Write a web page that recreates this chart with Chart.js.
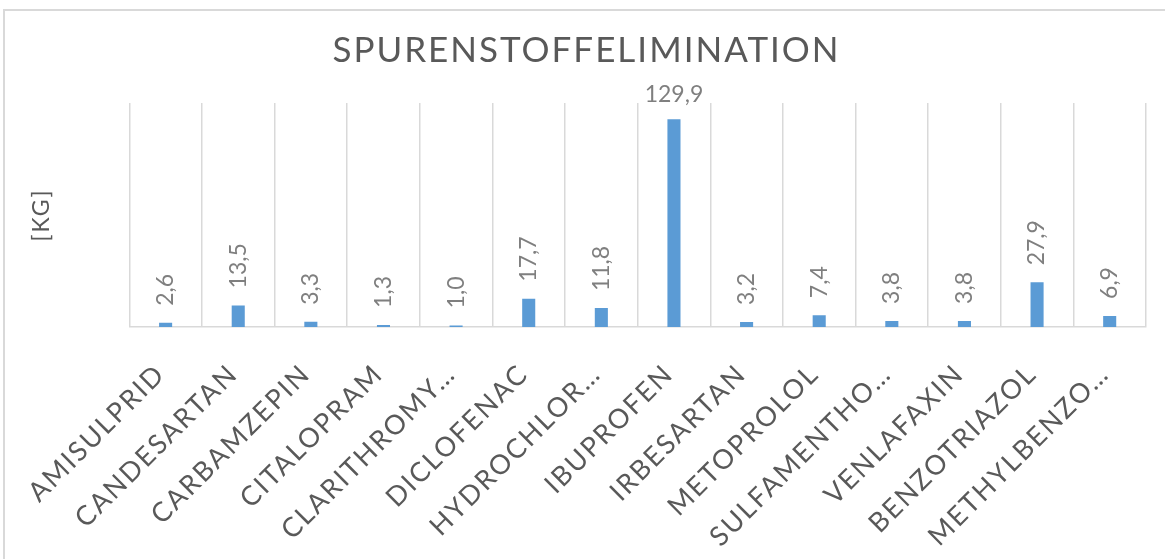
<!DOCTYPE html>
<html>
<head>
<meta charset="utf-8">
<script src="https://cdn.jsdelivr.net/npm/chart.js@4"></script>
<style>
  html, body { margin: 0; padding: 0; background: #ffffff; overflow: hidden; }
  #frame { position: absolute; left: 3px; top: 9px; width: 1220px; height: 620px;
           border-left: 2px solid #d9d9d9; border-top: 2px solid #d9d9d9; }
  #wrap { position: absolute; left: 0; top: 0; width: 1165px; height: 559px; }
</style>
</head>
<body>
<div id="frame"></div>
<div id="wrap"><canvas id="c"></canvas></div>
<script>
// ---- data ----
const chartTitle = 'SPURENSTOFFELIMINATION';
const yAxisTitle = '[KG]';
const categories = [
  'AMISULPRID', 'CANDESARTAN', 'CARBAMZEPIN', 'CITALOPRAM', 'CLARITHROMY…',
  'DICLOFENAC', 'HYDROCHLOR…', 'IBUPROFEN', 'IRBESARTAN', 'METOPROLOL',
  'SULFAMENTHO…', 'VENLAFAXIN', 'BENZOTRIAZOL', 'METHYLBENZO…'
];
const values = [2.6, 13.5, 3.3, 1.3, 1.0, 17.7, 11.8, 129.9, 3.2, 7.4, 3.8, 3.8, 27.9, 6.9];
const yMin = 0;
const yMax = 140;

// ---- styling ----
const TITLE_SPACING = '2px';
const LABEL_SPACING = '2px';
const VALUE_SPACING = '0px';
const FONT = 'Lato, "Open Sans", sans-serif';

function fmt(v) { return v.toFixed(1).replace('.', ','); }

const spacingPlugin = {
  id: 'spacing',
  beforeUpdate(chart) { chart.ctx.letterSpacing = LABEL_SPACING; },
  beforeDraw(chart) { chart.ctx.letterSpacing = TITLE_SPACING; },
  afterDatasetsDraw(chart) {
    const ctx = chart.ctx;
    const meta = chart.getDatasetMeta(0);
    ctx.save();
    ctx.letterSpacing = VALUE_SPACING;
    ctx.font = '23px ' + FONT;
    ctx.fillStyle = '#7f7f7f';
    meta.data.forEach((bar, i) => {
      const txt = fmt(values[i]);
      const w = ctx.measureText(txt).width;
      const start = bar.y - 17;
      if (start - w < chart.chartArea.top + 4) {
        ctx.textAlign = 'center';
        ctx.textBaseline = 'alphabetic';
        ctx.fillText(txt, bar.x, bar.y - 17.5);
      } else {
        ctx.save();
        ctx.translate(bar.x, start);
        ctx.rotate(-Math.PI / 2);
        ctx.textAlign = 'left';
        ctx.textBaseline = 'middle';
        ctx.fillText(txt, 0, 0);
        ctx.restore();
      }
    });
    ctx.restore();
    ctx.letterSpacing = LABEL_SPACING;
  }
};

new Chart(document.getElementById('c'), {
  type: 'bar',
  data: {
    labels: categories,
    datasets: [{
      data: values,
      backgroundColor: '#5b9bd5',
      borderWidth: 0,
      categoryPercentage: 1.0,
      barPercentage: 0.18
    }]
  },
  options: {
    responsive: true,
    maintainAspectRatio: false,
    animation: false,
    events: [],
    layout: { padding: { left: 8, right: 0, top: 0, bottom: 0 } },
    plugins: {
      legend: { display: false },
      tooltip: { enabled: false },
      title: {
        display: true,
        text: chartTitle,
        color: '#595959',
        font: { family: FONT, size: 35, weight: 'normal', lineHeight: 1.2 },
        padding: { top: 30, bottom: 31 }
      }
    },
    scales: {
      x: {
        offset: true,
        grid: { display: true, offset: true, color: '#d9d9d9', lineWidth: 1.5, drawTicks: false },
        border: { display: true, color: '#d9d9d9', width: 1.5 },
        ticks: {
          autoSkip: false,
          minRotation: 45,
          maxRotation: 45,
          padding: 31,
          labelOffset: -5,
          color: '#595959',
          font: { family: FONT, size: 27 },
          z: 1
        },
        afterFit(scale) { scale.height = 559 - 327; }
      },
      y: {
        min: yMin,
        max: yMax,
        grid: { display: false },
        border: { display: false },
        ticks: { display: false },
        title: {
          display: true,
          text: yAxisTitle,
          color: '#595959',
          font: { family: FONT, size: 23, lineHeight: 1.2 },
          padding: { top: 20, bottom: 0 }
        },
        afterFit(scale) { scale.width = 121.3; }
      },
      yRight: {
        position: 'right',
        display: true,
        grid: { display: false },
        border: { display: false },
        ticks: { display: false },
        afterFit(scale) { scale.width = 19; }
      }
    }
  },
  plugins: [spacingPlugin]
});
</script>
</body>
</html>
